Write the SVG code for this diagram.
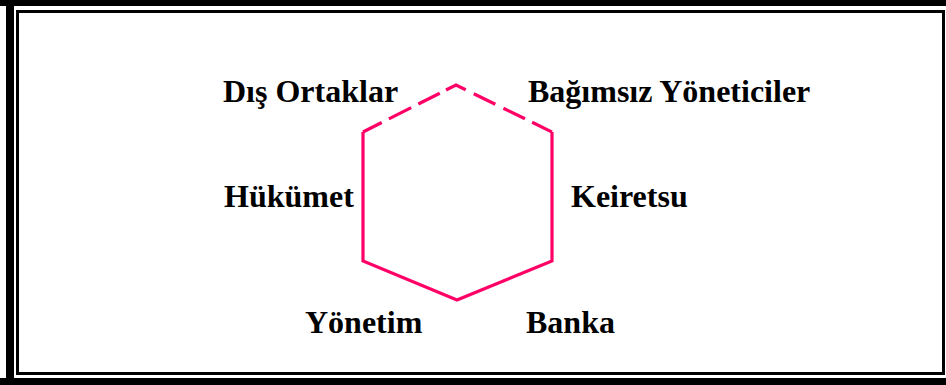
<svg xmlns="http://www.w3.org/2000/svg" width="946" height="385" viewBox="0 0 946 385">
<style>
.lbl{font-family:"Liberation Serif","Times New Roman",serif;font-weight:bold;font-size:32px;fill:#000}
.edge{fill:none;stroke:#FF0066;stroke-width:3.2;stroke-linejoin:miter}
</style>
<rect x="0" y="0" width="946" height="385" fill="#fff"/>
<g id="frame">
<rect x="0" y="0" width="946" height="6" fill="#000"/>
<rect x="6" y="0" width="8" height="385" fill="#000"/>
<rect x="0" y="378" width="946" height="7" fill="#000"/>
<rect x="17.5" y="11.5" width="926" height="362" fill="none" stroke="#000" stroke-width="3"/>
</g>
<g id="connectors">
<path class="edge" d="M552,132 L552,261 L457,300 L363,261 L363,132"/>
<path class="edge" d="M363,132 L456,85 L552,132" stroke-dasharray="21 8 25 8 24 7 22 9 24 9 24 8 20 0"/>
</g>
<g id="dis-ortaklar"><text class="lbl" x="223" y="102">Dış Ortaklar</text></g>
<g id="bagimsiz-yoneticiler"><text class="lbl" x="528" y="102">Bağımsız Yöneticiler</text></g>
<g id="hukumet"><text class="lbl" x="224" y="207">Hükümet</text></g>
<g id="keiretsu"><text class="lbl" x="571" y="207">Keiretsu</text></g>
<g id="yonetim"><text class="lbl" x="305" y="333">Yönetim</text></g>
<g id="banka"><text class="lbl" x="526" y="333">Banka</text></g>
</svg>
